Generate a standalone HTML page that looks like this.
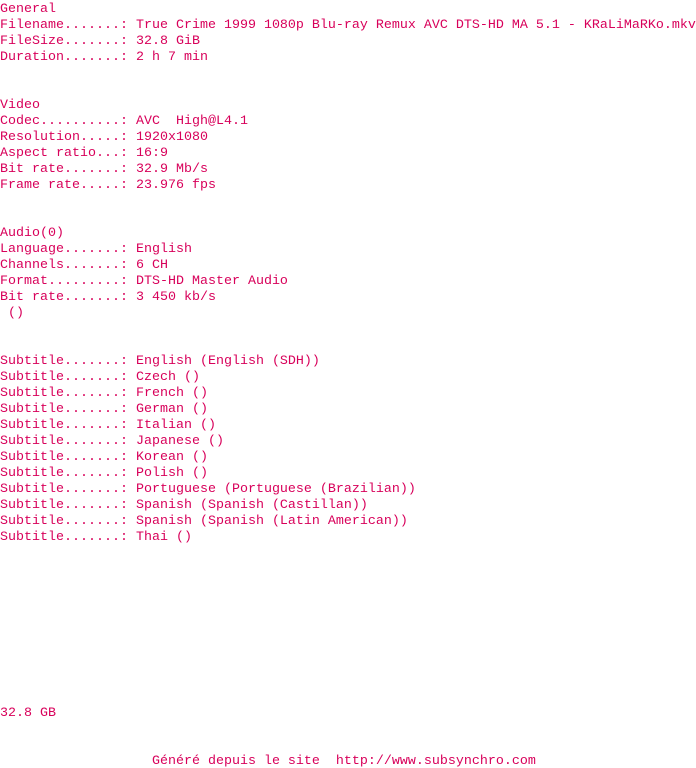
<!DOCTYPE html>
<html><head><meta charset="utf-8"><style>
html,body{margin:0;padding:0;background:#fff;width:696px;height:768px;overflow:hidden}
pre{margin:0;padding-top:2px;font-family:"Liberation Mono",monospace;font-size:13.33px;line-height:16px;color:#d8005a;white-space:pre}
</style></head><body><pre>General
Filename.......: True Crime 1999 1080p Blu-ray Remux AVC DTS-HD MA 5.1 - KRaLiMaRKo.mkv
FileSize.......: 32.8 GiB
Duration.......: 2 h 7 min


Video
Codec..........: AVC  High@L4.1
Resolution.....: 1920x1080
Aspect ratio...: 16:9
Bit rate.......: 32.9 Mb/s
Frame rate.....: 23.976 fps


Audio(0)
Language.......: English
Channels.......: 6 CH
Format.........: DTS-HD Master Audio
Bit rate.......: 3 450 kb/s
 ()


Subtitle.......: English (English (SDH))
Subtitle.......: Czech ()
Subtitle.......: French ()
Subtitle.......: German ()
Subtitle.......: Italian ()
Subtitle.......: Japanese ()
Subtitle.......: Korean ()
Subtitle.......: Polish ()
Subtitle.......: Portuguese (Portuguese (Brazilian))
Subtitle.......: Spanish (Spanish (Castillan))
Subtitle.......: Spanish (Spanish (Latin American))
Subtitle.......: Thai ()










32.8 GB


                   Généré depuis le site  http://www.subsynchro.com</pre></body></html>
